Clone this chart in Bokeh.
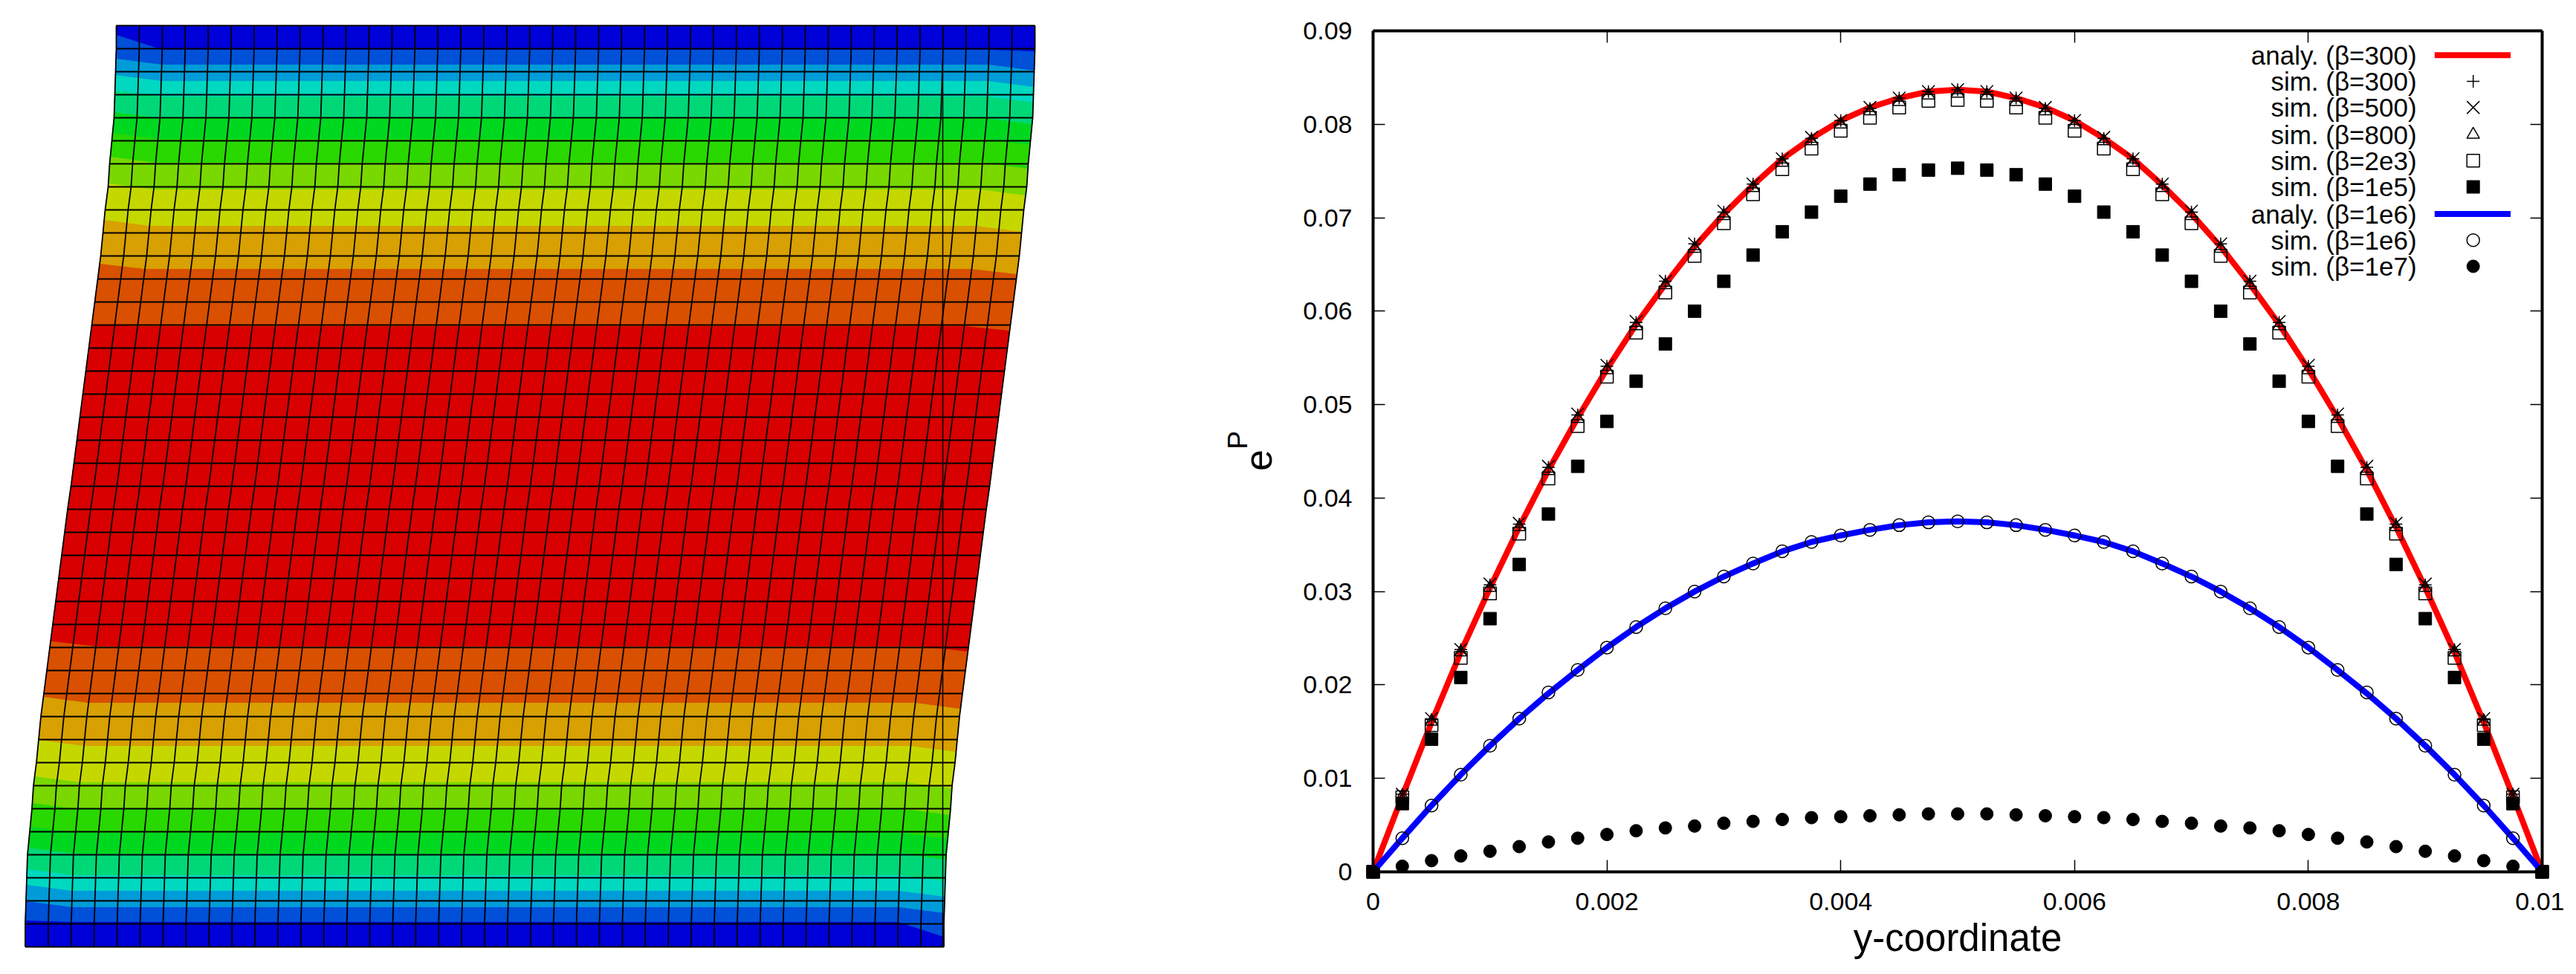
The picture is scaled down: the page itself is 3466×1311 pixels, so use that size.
import numpy as np
from bokeh.core.properties import value
from bokeh.embed import file_html
from bokeh.layouts import row
from bokeh.models import FixedTicker, LinearAxis, Range1d
from bokeh.plotting import figure
from bokeh.resources import INLINE

# mesh picture, read in image pixels
left_edge = [156, 156, 155, 154, 153, 150, 147, 145, 141, 138, 135, 131, 127, 123,
             119, 115, 111, 107, 103, 99, 95, 90.5, 86.5, 82.5, 78.5, 74.5, 70.5, 66.5,
             62.5, 58.5, 54.5, 51.5, 48.5, 44.5, 42.5, 39.5, 36.5, 35.5, 34.5, 33.5, 33.5]
band_edges = [34, 67, 87, 109, 130, 159, 187, 219, 255, 304, 362, 439,
              870, 946, 1004, 1053, 1089, 1121, 1149, 1178, 1199, 1221, 1241, 1274]
bend_left = [0, -20, -8, -8, -8, -8, -8, -8, -8, -8, -7, -2,
             -7, -8, -8, -8, -8, -8, -8, -8, -8, -8, -2, 0]
bend_right = [0, 2, 8, 8, 8, 8, 8, 8, 8, 8, 7, 6,
              7, 8, 8, 8, 8, 8, 8, 8, 8, 8, 20, 0]
band_colors = ["#0000D8", "#0050D8", "#009CD8", "#00D8C0", "#00D878", "#00D820",
               "#28D800", "#78D800", "#C4D800", "#D8A000", "#D85000", "#D80000",
               "#D85000", "#D8A000", "#C4D800", "#78D800", "#28D800", "#00D820",
               "#00D878", "#00D8C0", "#009CD8", "#0050D8", "#0000D8"]
undeformed_x = [1268, 1268]
undeformed_y = [80, 1274]
n_cells = 40
col_step = 30.9

# curves, y-coordinate against e^P
y_coord = [0, 0.00025, 0.0005, 0.00075, 0.001, 0.00125, 0.0015, 0.00175, 0.002, 0.00225,
           0.0025, 0.00275, 0.003, 0.00325, 0.0035, 0.00375, 0.004, 0.00425, 0.0045, 0.00475,
           0.005, 0.00525, 0.0055, 0.00575, 0.006, 0.00625, 0.0065, 0.00675, 0.007, 0.00725,
           0.0075, 0.00775, 0.008, 0.00825, 0.0085, 0.00875, 0.009, 0.00925, 0.0095, 0.00975, 0.01]
analy_300 = [0, .0081, .0160, .0235, .0304, .0369, .0430, .0486, .0538, .0586, .0629, .0669, .0704, .0735,
             .0763, .0785, .0804, .0818, .0828, .0835, .0837, .0835, .0828, .0818, .0804, .0785, .0763,
             .0735, .0704, .0669, .0629, .0586, .0538, .0486, .0430, .0369, .0304, .0235, .0160, .0081, 0]
sim_300 = [0, .0083, .0163, .0238, .0307, .0372, .0433, .0489, .0541, .0588, .0632, .0672, .0706, .0736,
           .0763, .0785, .0804, .0817, .0828, .0835, .0837, .0835, .0828, .0817, .0804, .0785, .0763,
           .0736, .0706, .0672, .0632, .0588, .0541, .0489, .0433, .0372, .0307, .0238, .0163, .0083, 0]
sim_500 = [0, .0083, .0164, .0238, .0308, .0373, .0434, .0490, .0542, .0589, .0632, .0672, .0707, .0736,
           .0763, .0786, .0804, .0818, .0828, .0835, .0837, .0835, .0828, .0818, .0804, .0786, .0763,
           .0736, .0707, .0672, .0632, .0589, .0542, .0490, .0434, .0373, .0308, .0238, .0164, .0083, 0]
sim_800 = [0, .0081, .0161, .0235, .0304, .0369, .0429, .0485, .0537, .0584, .0628, .0667, .0702, .0732,
           .0759, .0782, .0800, .0814, .0824, .0831, .0833, .0831, .0824, .0814, .0800, .0782, .0759,
           .0732, .0702, .0667, .0628, .0584, .0537, .0485, .0429, .0369, .0304, .0235, .0161, .0081, 0]
sim_2e3 = [0, .0080, .0157, .0229, .0298, .0362, .0421, .0477, .0530, .0577, .0620, .0659, .0694, .0725,
           .0752, .0774, .0793, .0807, .0818, .0825, .0826, .0825, .0818, .0807, .0793, .0774, .0752,
           .0725, .0694, .0659, .0620, .0577, .0530, .0477, .0421, .0362, .0298, .0229, .0157, .0080, 0]
sim_1e5 = [0, .0073, .0142, .0208, .0271, .0329, .0383, .0434, .0482, .0525, .0565, .0600, .0632, .0660,
           .0685, .0706, .0723, .0736, .0746, .0751, .0753, .0751, .0746, .0736, .0723, .0706, .0685,
           .0660, .0632, .0600, .0565, .0525, .0482, .0434, .0383, .0329, .0271, .0208, .0142, .0073, 0]
analy_1e6 = [0, .0036, .0071, .0104, .0135, .0164, .0191, .0216, .0240, .0262, .0282, .0300, .0316, .0330,
             .0343, .0353, .0360, .0366, .0371, .0374, .0375, .0374, .0371, .0366, .0360, .0353, .0343,
             .0330, .0316, .0300, .0282, .0262, .0240, .0216, .0191, .0164, .0135, .0104, .0071, .0036, 0]
sim_1e6 = [0, .0036, .0071, .0104, .0135, .0164, .0192, .0216, .0240, .0262, .0282, .0300, .0316, .0330,
           .0343, .0353, .0360, .0366, .0371, .0374, .0375, .0374, .0371, .0366, .0360, .0353, .0343,
           .0330, .0316, .0300, .0282, .0262, .0240, .0216, .0192, .0164, .0135, .0104, .0071, .0036, 0]
sim_1e7 = [0, .0006, .0012, .0017, .0022, .0027, .0032, .0036, .0040, .0044, .0047, .0049, .0052, .0054,
           .0056, .0058, .0059, .0060, .0061, .0062, .0062, .0062, .0061, .0060, .0059, .0058, .0056,
           .0054, .0052, .0049, .0047, .0044, .0040, .0036, .0032, .0027, .0022, .0017, .0012, .0006, 0]

x_ticks = [0, 0.002, 0.004, 0.006, 0.008, 0.01]
x_tick_labels = ["0", "0.002", "0.004", "0.006", "0.008", "0.01"]
y_ticks = [0, 0.01, 0.02, 0.03, 0.04, 0.05, 0.06, 0.07, 0.08, 0.09]
y_tick_labels = ["0", "0.01", "0.02", "0.03", "0.04", "0.05", "0.06", "0.07", "0.08", "0.09"]

legend_labels = ["analy. (β=300)", "sim. (β=300)", "sim. (β=500)", "sim. (β=800)", "sim. (β=2e3)",
                 "sim. (β=1e5)", "analy. (β=1e6)", "sim. (β=1e6)", "sim. (β=1e7)"]
legend_y = [0.0874, 0.0846, 0.0818, 0.0789, 0.0761, 0.0733, 0.0704, 0.0676, 0.0648]

FONT = "Liberation Sans"


# ---- mesh ----
row_y = np.linspace(band_edges[0], band_edges[-1], n_cells + 1)


def x_at(col, y):
    return np.interp(y, row_y, left_edge) + col * col_step


def edge_y(i, col):
    # bands bend towards the free sides in the last two columns
    return band_edges[i] + bend_left[i] * max(0, 1 - col / 2) + bend_right[i] * max(0, (col - 38) / 2)


def band_outline(i):
    cols = range(n_cells + 1)
    top = [(x_at(c, edge_y(i, c)), edge_y(i, c)) for c in cols]
    bottom = [(x_at(c, edge_y(i + 1, c)), edge_y(i + 1, c)) for c in cols]
    right = [(x_at(n_cells, y), y) for y in row_y if top[-1][1] < y < bottom[-1][1]]
    left = [(x_at(0, y), y) for y in row_y if top[0][1] < y < bottom[0][1]]
    pts = top + right + bottom[::-1] + left[::-1]
    return [q[0] for q in pts], [q[1] for q in pts]


mesh = figure(width=1750, height=1295, x_range=Range1d(0, 1750), y_range=Range1d(1295, 0),
              x_axis_type=None, y_axis_type=None, min_border=0, outline_line_color=None,
              frame_align=False, output_backend="svg", toolbar_location=None)
mesh.grid.visible = False

outlines = [band_outline(i) for i in range(len(band_colors))]
mesh.patches([o[0] for o in outlines], [o[1] for o in outlines],
             fill_color=band_colors, line_color=band_colors, line_width=1)

# element edges
row_lines_x = [[x_at(0, y), x_at(n_cells, y)] for y in row_y]
row_lines_y = [[y, y] for y in row_y]
col_lines_x = [[x_at(c, y) for y in row_y] for c in range(n_cells + 1)]
col_lines_y = [list(row_y) for c in range(n_cells + 1)]
mesh.multi_line(row_lines_x, row_lines_y, line_color="black", line_width=1.8)
mesh.multi_line(col_lines_x, col_lines_y, line_color="black", line_width=1.8)
mesh.line(undeformed_x, undeformed_y, line_color="black", line_width=1.5)

# e with superscript P: the labels of the curve plot would get cut there, so they live in this frame
mesh.text([1692], [619], text=["e"], angle=90, angle_units="deg", text_font=value(FONT),
          text_font_size=value("52px"), text_align="center", text_baseline="alphabetic", text_color="black")
mesh.text([1665], [592], text=["P"], angle=90, angle_units="deg", text_font=value(FONT),
          text_font_size=value("37px"), text_align="center", text_baseline="alphabetic", text_color="black")


# ---- curves ----
# the frame is a bit larger than the box so that markers on the box edge are not cut,
# the box lines are axes pinned with fixed_location, the labels sit on plain axes
x_pad = 12 / 157300
y_pad = 12 / 12578
p = figure(frame_width=1597, frame_height=1156,
           x_range=Range1d(-x_pad, 0.01 + x_pad), y_range=Range1d(-y_pad, 0.09 + y_pad),
           x_axis_type=None, y_axis_type=None, outline_line_color=None, frame_align=False,
           min_border_left=85, min_border_right=18, min_border_top=29, min_border_bottom=110,
           output_backend="svg", toolbar_location=None)
p.grid.visible = False


def box_axis(ticks, location, bounds):
    ax = LinearAxis(ticker=FixedTicker(ticks=ticks), fixed_location=location, bounds=bounds)
    ax.major_label_text_color = None
    ax.major_tick_in = 16
    ax.major_tick_out = 0
    ax.major_tick_line_width = 1.5
    ax.major_tick_line_color = "black"
    ax.minor_tick_line_color = None
    ax.axis_line_width = 4
    ax.axis_line_color = "black"
    return ax


def label_axis(ticks, labels):
    ax = LinearAxis(ticker=FixedTicker(ticks=ticks))
    ax.major_label_overrides = dict(zip(ticks, labels))
    ax.major_tick_line_color = None
    ax.minor_tick_line_color = None
    ax.axis_line_color = None
    ax.major_label_standoff = 10
    ax.major_label_text_font = FONT
    ax.major_label_text_font_size = "34px"
    ax.major_label_text_color = "black"
    return ax


x_box = (0, 0.01)
y_box = (0, 0.09)
p.add_layout(box_axis(x_ticks, 0, x_box), "below")
p.add_layout(box_axis(y_ticks, 0, y_box), "left")
p.add_layout(box_axis(x_ticks, 0.09, x_box), "above")
p.add_layout(box_axis(y_ticks, 0.01, y_box), "right")

bottom_labels = label_axis(x_ticks, x_tick_labels)
bottom_labels.axis_label = "y-coordinate"
bottom_labels.axis_label_text_font = FONT
bottom_labels.axis_label_text_font_size = "51px"
bottom_labels.axis_label_text_font_style = "normal"
bottom_labels.axis_label_text_color = "black"
bottom_labels.axis_label_standoff = 6
p.add_layout(bottom_labels, "below")
p.add_layout(label_axis(y_ticks, y_tick_labels), "left")

MARKER = 17
open_style = dict(size=MARKER, line_color="black", line_width=1.5, fill_alpha=0)
x_style = dict(size=24, line_color="black", line_width=1.5, fill_alpha=0)
filled_style = dict(size=MARKER, line_color="black", line_width=1, fill_color="black")

p.line(y_coord, analy_300, line_color="#FF0000", line_width=8)
p.scatter(y_coord, sim_300, marker="cross", **open_style)
p.scatter(y_coord, sim_500, marker="x", **x_style)
p.scatter(y_coord, sim_800, marker="triangle", **open_style)
p.scatter(y_coord, sim_2e3, marker="square", **open_style)
p.scatter(y_coord, sim_1e5, marker="square", **filled_style)
p.line(y_coord, analy_1e6, line_color="#0000FF", line_width=8)
p.scatter(y_coord, sim_1e6, marker="circle", **open_style)
p.scatter(y_coord, sim_1e7, marker="circle", **filled_style)

# gnuplot style key: text right aligned, sample on its right
p.text([0.008926] * len(legend_labels), legend_y, text=legend_labels, text_font=value(FONT),
       text_font_size=value("35px"), text_align="right", text_baseline="middle", text_color="black")
p.line([0.00908, 0.00973], [legend_y[0]] * 2, line_color="#FF0000", line_width=8)
p.line([0.00908, 0.00973], [legend_y[6]] * 2, line_color="#0000FF", line_width=8)
p.scatter([0.00941], [legend_y[1]], marker="cross", **open_style)
p.scatter([0.00941], [legend_y[2]], marker="x", **x_style)
p.scatter([0.00941], [legend_y[3]], marker="triangle", **open_style)
p.scatter([0.00941], [legend_y[4]], marker="square", **open_style)
p.scatter([0.00941], [legend_y[5]], marker="square", **filled_style)
p.scatter([0.00941], [legend_y[7]], marker="circle", **open_style)
p.scatter([0.00941], [legend_y[8]], marker="circle", **filled_style)

page = row(mesh, p)
open("out.html", "w").write(file_html(page, INLINE))
